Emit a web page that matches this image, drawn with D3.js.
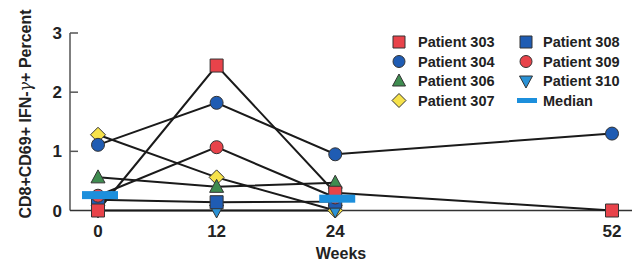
<!DOCTYPE html>
<html>
<head>
<meta charset="utf-8">
<script src="https://cdn.jsdelivr.net/npm/d3@7"></script>
<style>
  body { margin: 0; background: #fff; }
  text { font-family: "Liberation Sans", Arial, sans-serif; font-weight: bold; fill: #222; }
</style>
</head>
<body>
<div id="chart-area"></div>
<script>
// DATA -------------------------------------------------------------
var weeks = [0, 12, 24, 52];
var xTicks = [0, 12, 24, 52];
var yTicks = [0, 1, 2, 3];

var p303 = [0, 2.45, 0.30, 0];
var p304 = [1.11, 1.82, 0.95, 1.30];
var p306 = [0.56, 0.40, 0.47];
var p307 = [1.28, 0.56, 0];
var p308 = [0.18, 0.14, 0.15];
var p309 = [0.25, 1.07, 0.22];
var p310 = [0, 0, 0];
var medianWeeks = [0, 24];
var medianValues = [0.26, 0.20];

// series table, in drawing order
var series = [
  { name: "Patient 307", values: p307, shape: "diamond", color: "#f6e24a" },
  { name: "Patient 306", values: p306, shape: "triangle", color: "#3f8c50" },
  { name: "Patient 310", values: p310, shape: "triangleDown", color: "#2a92d6" },
  { name: "Patient 308", values: p308, shape: "square", color: "#1f5cb3" },
  { name: "Patient 309", values: p309, shape: "circle", color: "#e8434a" },
  { name: "Patient 303", values: p303, shape: "square", color: "#e8434a" },
  { name: "Patient 304", values: p304, shape: "circle", color: "#1f5cb3" }
];
var medianColor = "#1c8fdc";

var width = 637, height = 267;

var svg = d3.select("#chart-area").append("svg")
    .attr("width", width)
    .attr("height", height);

// SCALES ----------------------------------------------------------
var x = d3.scaleLinear().domain([0, 52]).range([98, 612]);
var y = d3.scaleLinear().domain([0, 3]).range([210.5, 33]);
var axisX = 70;

// symbol helper
function symbolPath(shape, s) {
  var h = s / 2;
  if (shape == "square") return "M" + (-h) + "," + (-h) + "h" + s + "v" + s + "h" + (-s) + "Z";
  if (shape == "circle") return d3.symbol(d3.symbolCircle, Math.PI * h * h)();
  if (shape == "diamond") return "M0," + (-h - 1) + "L" + (h + 1) + ",0L0," + (h + 1) + "L" + (-h - 1) + ",0Z";
  if (shape == "triangle") return "M0," + (-h - 1) + "L" + (h + 0.5) + "," + (h - 1) + "L" + (-h - 0.5) + "," + (h - 1) + "Z";
  if (shape == "triangleDown") return "M0," + (h + 1) + "L" + (h + 0.5) + "," + (-h + 1) + "L" + (-h - 0.5) + "," + (-h + 1) + "Z";
}

// AXES ------------------------------------------------------------
var axisGroup = svg.append("g").attr("class", "axes");
axisGroup.append("line")
    .attr("x1", axisX).attr("x2", axisX)
    .attr("y1", y(3)).attr("y2", y(0))
    .attr("stroke", "#555").attr("stroke-width", 1.5);
axisGroup.append("line")
    .attr("x1", axisX).attr("x2", 632)
    .attr("y1", y(0)).attr("y2", y(0))
    .attr("stroke", "#333").attr("stroke-width", 1.5);
axisGroup.selectAll(".ytick")
    .data(yTicks.slice(1))
    .enter().append("line")
    .attr("class", "ytick")
    .attr("x1", axisX).attr("x2", axisX + 8)
    .attr("y1", d => y(d)).attr("y2", d => y(d))
    .attr("stroke", "#555").attr("stroke-width", 1.5);
axisGroup.selectAll(".ylabel")
    .data(yTicks)
    .enter().append("text")
    .attr("class", "ylabel")
    .attr("x", 62)
    .attr("y", d => y(d) + 6)
    .attr("text-anchor", "end")
    .attr("font-size", "17px")
    .text(d => d);
axisGroup.selectAll(".xlabel")
    .data(xTicks)
    .enter().append("text")
    .attr("class", "xlabel")
    .attr("x", d => x(d))
    .attr("y", 237)
    .attr("text-anchor", "middle")
    .attr("font-size", "17px")
    .text(d => d);

svg.append("text")
    .attr("x", 341)
    .attr("y", 259)
    .attr("text-anchor", "middle")
    .attr("font-size", "16px")
    .text("Weeks");

var yTitle = svg.append("text")
    .attr("transform", "translate(31,114) rotate(-90)")
    .attr("text-anchor", "middle")
    .attr("font-size", "16px");
yTitle.append("tspan").text("CD8+CD69+ IFN-");
yTitle.append("tspan").attr("font-style", "italic").attr("font-family", "DejaVu Serif").attr("font-weight", "normal").text("γ");
yTitle.append("tspan").text("+ Percent");

// LINES -----------------------------------------------------------
var line = d3.line()
    .x((d, i) => x(weeks[i]))
    .y(d => y(d));

svg.append("g").selectAll("path")
    .data(series)
    .enter().append("path")
    .attr("d", d => line(d.values))
    .attr("fill", "none")
    .attr("stroke", "#1a1a1a")
    .attr("stroke-width", 2);

// MARKERS ---------------------------------------------------------
series.forEach(s => {
  svg.append("g").selectAll("path")
    .data(s.values)
    .enter().append("path")
    .attr("transform", (d, i) => "translate(" + x(weeks[i]) + "," + y(d) + ")")
    .attr("d", symbolPath(s.shape, 13))
    .attr("fill", s.color)
    .attr("stroke", "#333")
    .attr("stroke-width", 1);
});

// MEDIAN bars
svg.append("g").selectAll("rect")
    .data(medianValues)
    .enter().append("rect")
    .attr("x", (d, i) => x(medianWeeks[i]) - 16)
    .attr("y", d => y(d) - 4)
    .attr("width", 36)
    .attr("height", 8)
    .attr("fill", medianColor);

// LEGEND ----------------------------------------------------------
var legendItems = [
  { name: "Patient 303", shape: "square", color: "#e8434a" },
  { name: "Patient 304", shape: "circle", color: "#1f5cb3" },
  { name: "Patient 306", shape: "triangle", color: "#3f8c50" },
  { name: "Patient 307", shape: "diamond", color: "#f6e24a" },
  { name: "Patient 308", shape: "square", color: "#1f5cb3" },
  { name: "Patient 309", shape: "circle", color: "#e8434a" },
  { name: "Patient 310", shape: "triangleDown", color: "#2a92d6" },
  { name: "Median", shape: "median", color: medianColor }
];
var legend = svg.append("g").attr("class", "legend");
legendItems.forEach((d, i) => {
  var col = Math.floor(i / 4), row = i % 4;
  var mx = col == 0 ? 399 : 526;
  var my = 42 + row * 19.5;
  if (d.shape == "median") {
    legend.append("rect")
      .attr("x", mx - 9).attr("y", my - 2.5)
      .attr("width", 20).attr("height", 5)
      .attr("fill", d.color);
  } else {
    legend.append("path")
      .attr("transform", "translate(" + mx + "," + my + ")")
      .attr("d", symbolPath(d.shape, 12))
      .attr("fill", d.color)
      .attr("stroke", "#333")
      .attr("stroke-width", 1);
  }
  legend.append("text")
    .attr("x", col == 0 ? 418 : 543)
    .attr("y", my + 5)
    .attr("font-size", "14.5px")
    .text(d.name);
});
</script>
</body>
</html>
